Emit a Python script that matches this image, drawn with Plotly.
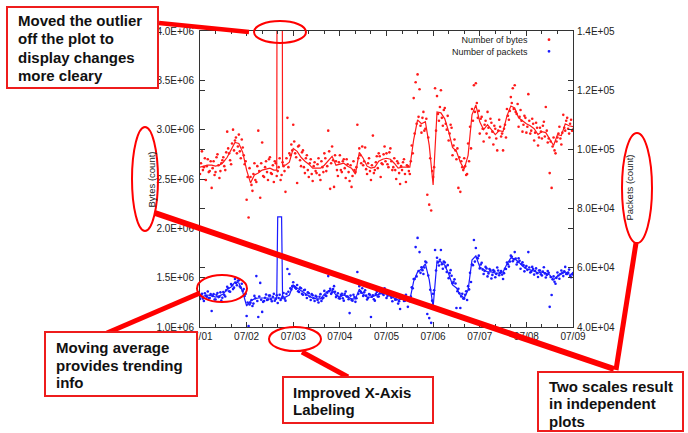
import pandas as pd
import plotly.graph_objects as go

W, H = 688, 433
START = pd.Timestamp("2009-07-01")

# ---------------- data ----------------
# moving-average sample times (hours since 07/01 00:00)
ma_hours = list(range(0, 39, 2)) + [39.5, 40, 42, 42.5] + list(range(44, 193, 2))

# moving average of bytes (millions)
ma_bytes_m = [
    2.62, 2.63, 2.64, 2.64, 2.63, 2.64, 2.67, 2.72, 2.79, 2.87,
    2.86, 2.77, 2.59, 2.46, 2.54, 2.56, 2.59, 2.60, 2.61, 2.59,
    2.59, 9.0, 9.0, 2.64,
    2.64, 2.67, 2.81, 2.78, 2.72, 2.68, 2.65, 2.61, 2.61, 2.61,
    2.64, 2.69, 2.73, 2.64, 2.65, 2.66, 2.63, 2.61, 2.55, 2.77,
    2.71, 2.63, 2.61, 2.62, 2.68, 2.70, 2.71, 2.70, 2.66, 2.61,
    2.62, 2.62, 2.62, 2.90, 3.10, 3.06, 3.08, 2.84, 2.44, 3.18,
    3.17, 3.11, 2.98, 2.82, 2.78, 2.67, 2.60, 2.74, 3.15, 3.25,
    3.08, 3.00, 3.05, 3.00, 2.95, 2.99, 2.98, 3.14, 3.24, 3.22,
    3.12, 3.09, 3.06, 3.04, 3.01, 2.95, 2.98, 2.97, 2.90, 2.84,
    2.95, 2.94, 3.06, 3.04, 3.03,
]

# moving average of packets (thousands)
ma_packets_k = [
    50.1, 50.5, 50.8, 50.5, 50.1, 50.5, 51.1, 52.8, 53.5, 55.2,
    54.9, 51.8, 47.1, 48.8, 49.5, 49.8, 49.8, 49.8, 49.8, 49.8,
    49.8, 77.2, 77.2, 50.1,
    50.1, 50.8, 54.2, 53.2, 52.2, 51.5, 50.5, 49.8, 49.5, 49.5,
    51.1, 52.2, 52.5, 50.8, 50.1, 50.8, 50.1, 49.5, 49.5, 52.8,
    51.1, 50.1, 50.1, 50.5, 51.1, 51.5, 51.1, 50.5, 49.8, 49.1,
    49.5, 49.8, 49.1, 55.5, 58.6, 59.6, 61.3, 55.9, 46.8, 62.3,
    62.0, 60.9, 57.9, 54.2, 53.2, 50.8, 49.8, 52.5, 62.6, 64.0,
    60.3, 59.3, 58.6, 58.6, 58.2, 58.2, 58.6, 61.3, 63.3, 63.0,
    62.0, 60.6, 59.6, 59.3, 58.9, 58.2, 58.6, 58.2, 57.6, 55.9,
    57.2, 57.9, 58.6, 57.9, 57.6,
]

# samples on the hour: bytes (units of 1e4)
bytes_pts = [
    255, 278, 262, 249, 270, 258, 241, 268, 257, 275, 251, 266,
    272, 259, 298, 276, 265, 300, 289, 276, 295, 271, 282, 265,
    229, 211, 252, 238, 266, 247, 299, 231, 287, 252, 268, 249,
    272, 255, 247, 266, 258, 271, 254, 263, 237, 312, 276, 285,
    305, 276, 246, 284, 263, 279, 256, 274, 252, 270, 248, 267,
    256, 271, 249, 262, 276, 258, 299, 240, 283, 242, 268, 253,
    274, 257, 270, 251, 265, 248, 242, 268, 257, 305, 281, 266,
    264, 282, 255, 271, 249, 294, 259, 273, 276, 252, 265, 283,
    276, 262, 281, 259, 271, 250, 266, 245, 259, 270, 247, 263,
    255, 284, 332, 348, 356, 341, 297, 318, 301, 234, 224, 218,
    252, 342, 334, 309, 340, 304, 322, 300, 289, 305, 274, 290,
    270, 241, 237, 262, 271, 254, 286, 303, 321, 345, 347, 312,
    296, 313, 288, 309, 318, 292, 307, 285, 301, 279, 310, 293,
    279, 305, 321, 310, 333, 342, 345, 316, 303, 320, 298, 314,
    297, 336, 296, 311, 289, 307, 284, 302, 291, 308, 323, 287,
    256, 241, 292, 276, 292, 303, 285, 315, 299, 312, 296, 310, 300,
]

# samples on the half hour: bytes (units of 1e4)
bytes_pts_half = [
    266, 259, 271, 263, 257, 268, 261, 254, 272, 264, 258, 269,
    263, 277, 281, 269, 286, 279, 292, 283, 278, 290, 274, 268,
    252, 261, 244, 255, 249, 263, 258, 266, 253, 262, 257, 270,
    256, 264, 268, 253, 262, 249, 267, 258, 271, 262, 274, 279,
    288, 272, 283, 269, 277, 262, 271, 259, 266, 255, 263, 258,
    265, 254, 268, 257, 271, 263, 278, 266, 269, 274, 259, 267,
    259, 268, 261, 270, 257, 264, 253, 259, 262, 271, 274, 283,
    268, 260, 266, 258, 264, 256, 267, 261, 273, 266, 275, 268,
    265, 277, 268, 262, 259, 268, 256, 263, 267, 255, 264, 258,
    268, 276, 296, 306, 313, 304, 312, 299, 311, 292, 271, 258,
    262, 299, 316, 323, 312, 320, 306, 314, 296, 302, 284, 279,
    281, 272, 268, 259, 263, 255, 268, 281, 309, 318, 327, 319,
    311, 301, 305, 296, 302, 311, 298, 304, 291, 299, 303, 296,
    301, 292, 314, 319, 327, 321, 318, 326, 313, 309, 305, 312,
    303, 309, 299, 306, 297, 302, 292, 298, 304, 293, 299, 291,
    288, 283, 279, 288, 296, 291, 297, 302, 309, 301, 306, 299,
]

# samples on the hour: packets (units of 100)
packets_pts = [
    495, 512, 488, 506, 520, 498, 454, 511, 493, 515, 502, 489,
    518, 503, 536, 521, 545, 528, 562, 541, 558, 533, 522, 505,
    437, 403, 482, 471, 505, 572, 434, 549, 451, 488, 510, 493,
    506, 487, 512, 495, 481, 509, 497, 515, 489, 596, 579, 527,
    551, 533, 542, 518, 531, 509, 526, 498, 514, 491, 507, 488,
    502, 483, 511, 496, 522, 505, 572, 529, 517, 538, 501, 514,
    496, 512, 489, 520, 503, 447, 491, 509, 485, 586, 538, 516,
    505, 524, 493, 511, 434, 507, 489, 518, 503, 527, 512, 531,
    498, 521, 506, 487, 510, 493, 479, 461, 502, 488, 509, 468,
    487, 534, 562, 670, 701, 653, 602, 579, 621, 444, 430, 414,
    512, 660, 634, 608, 660, 597, 618, 586, 565, 592, 548, 561,
    464, 529, 464, 512, 496, 521, 538, 583, 611, 694, 667, 632,
    598, 617, 579, 603, 571, 596, 564, 592, 568, 601, 575, 589,
    562, 597, 618, 604, 641, 622, 653, 611, 632, 597, 619, 588,
    606, 653, 584, 603, 577, 598, 569, 591, 574, 602, 567, 589,
    468, 508, 571, 546, 584, 563, 591, 572, 603, 579, 594, 568, 582,
]

# samples on the half hour: packets (units of 100)
packets_pts_half = [
    507, 496, 514, 502, 498, 511, 505, 493, 509, 501, 517, 499,
    508, 524, 531, 519, 541, 533, 549, 556, 537, 546, 528, 512,
    483, 476, 491, 479, 497, 488, 503, 492, 485, 499, 491, 506,
    494, 502, 489, 507, 498, 491, 503, 496, 512, 519, 531, 538,
    537, 529, 521, 533, 512, 524, 509, 517, 503, 511, 497, 505,
    491, 502, 488, 499, 507, 516, 521, 512, 528, 519, 506, 497,
    508, 497, 512, 503, 494, 506, 489, 501, 497, 512, 521, 531,
    517, 506, 498, 509, 502, 494, 511, 503, 514, 521, 508, 517,
    505, 514, 499, 508, 492, 503, 487, 496, 501, 489, 497, 493,
    503, 531, 562, 571, 589, 583, 592, 601, 618, 574, 526, 489,
    524, 591, 618, 627, 612, 621, 603, 609, 582, 573, 553, 547,
    521, 514, 503, 496, 509, 491, 527, 552, 609, 621, 634, 641,
    611, 594, 589, 598, 581, 592, 576, 588, 579, 591, 583, 577,
    582, 596, 612, 621, 637, 628, 631, 619, 624, 613, 609, 601,
    593, 601, 587, 596, 589, 582, 591, 578, 587, 581, 576, 583,
    569, 561, 553, 566, 574, 579, 583, 588, 579, 584, 572, 578,
]

day_labels = ["07/01", "07/02", "07/03", "07/04", "07/05", "07/06", "07/07", "07/08", "07/09"]
bytes_ticks = [1.0e6, 1.5e6, 2.0e6, 2.5e6, 3.0e6, 3.5e6, 4.0e6]
bytes_labels = ["1.0E+06", "1.5E+06", "2.0E+06", "2.5E+06", "3.0E+06", "3.5E+06", "4.0E+06"]
packet_ticks = [4.0e4, 6.0e4, 8.0e4, 1.0e5, 1.2e5, 1.4e5]
packet_labels = ["4.0E+04", "6.0E+04", "8.0E+04", "1.0E+05", "1.2E+05", "1.4E+05"]
legend_labels = ["Number of bytes", "Number of packets"]

callouts = [
    ["Moved the outlier", "off the plot to", "display changes", "more cleary"],
    ["Moving average", "provides trending", "info"],
    ["Improved X-Axis", "Labeling"],
    ["Two scales result", "in independent", "plots"],
]

# ---------------- build ----------------
def hours_to_t(hours):
    return [START + pd.Timedelta(hours=h) for h in hours]


ma_t = hours_to_t(ma_hours)
b_t = hours_to_t(list(range(len(bytes_pts))) + [h + 0.5 for h in range(len(bytes_pts_half))])
p_t = hours_to_t(list(range(len(packets_pts))) + [h + 0.5 for h in range(len(packets_pts_half))])
b_vals = [v * 1e4 for v in bytes_pts + bytes_pts_half]
p_vals = [v * 1e2 for v in packets_pts + packets_pts_half]
day_ticks = [START + pd.Timedelta(days=d) for d in range(len(day_labels))]

RED = "#ff1a1a"
BLUE = "#1a1aff"
AX = "#333333"
FONT = "Liberation Sans, Arial, sans-serif"

fig = go.Figure()
fig.add_trace(go.Scatter(x=b_t, y=b_vals, mode="markers",
                         marker=dict(size=2.6, color=RED), yaxis="y", showlegend=False))
fig.add_trace(go.Scatter(x=ma_t, y=[v * 1e6 for v in ma_bytes_m], mode="lines",
                         line=dict(color=RED, width=1.2), yaxis="y", showlegend=False))
fig.add_trace(go.Scatter(x=p_t, y=p_vals, mode="markers",
                         marker=dict(size=2.6, color=BLUE), yaxis="y2", showlegend=False))
fig.add_trace(go.Scatter(x=ma_t, y=[v * 1e3 for v in ma_packets_k], mode="lines",
                         line=dict(color=BLUE, width=1.2), yaxis="y2", showlegend=False))


def px(x):
    return x / W


def py(y):
    return 1 - y / H


L, R, T, B = 200, 573, 31, 327
tickfont = dict(family=FONT, size=10, color="#222222")

fig.update_layout(
    width=W, height=H,
    margin=dict(l=0, r=0, t=0, b=0, autoexpand=False),
    paper_bgcolor="white", plot_bgcolor="white",
    showlegend=False,
    xaxis=dict(
        domain=[px(L), px(R)], type="date", automargin=False,
        range=[START, START + pd.Timedelta(days=8)],
        tickmode="array", tickvals=day_ticks, ticktext=day_labels,
        ticks="inside", ticklen=5, tickcolor=AX, tickwidth=1,
        showline=True, linecolor=AX, linewidth=1, mirror="ticks",
        showgrid=False, zeroline=False, tickfont=tickfont,
        minor=dict(tickmode="linear", tick0=START, dtick=8 * 3600 * 1000,
                   ticks="inside", ticklen=3, tickcolor=AX, showgrid=False),
    ),
    yaxis=dict(
        domain=[py(B), py(T)], range=[1.0e6, 4.0e6], automargin=False,
        tickmode="array", tickvals=bytes_ticks, ticktext=bytes_labels,
        ticks="inside", ticklen=5, tickcolor=AX,
        showline=True, linecolor=AX, linewidth=1, mirror="ticks",
        showgrid=False, zeroline=False, tickfont=tickfont, ticklabelstandoff=3,
    ),
    yaxis2=dict(
        overlaying="y", side="right", anchor="x", range=[4.0e4, 1.4e5], automargin=False,
        tickmode="array", tickvals=packet_ticks, ticktext=packet_labels,
        ticks="inside", ticklen=5, tickcolor=AX,
        showline=True, linecolor=AX, linewidth=1, mirror="ticks",
        showgrid=False, zeroline=False, tickfont=tickfont, ticklabelstandoff=1,
    ),
)

shapes = []
ann = []

# legend (text block right-aligned, sample dots to the right)
LEG_MID, LEG_SIZE = 45.5, 9
ann.append(dict(x=px(529), y=py(LEG_MID), xref="paper", yref="paper",
                text="<br>".join(legend_labels), showarrow=False, borderpad=0,
                xanchor="right", yanchor="middle", align="right",
                font=dict(family=FONT, size=LEG_SIZE, color="#222222")))
half = 1.3 * LEG_SIZE / 2
for row, col in zip([LEG_MID - half, LEG_MID + half], [RED, BLUE]):
    shapes.append(dict(type="circle", xref="paper", yref="paper",
                       x0=px(547.6), x1=px(550.4), y0=py(row - 1.4), y1=py(row + 1.4),
                       fillcolor=col, line=dict(width=0), layer="above"))

# axis titles
ann.append(dict(x=px(143), y=py(180), xref="paper", yref="paper", text="Bytes (count)",
                showarrow=False, textangle=-90, font=dict(family=FONT, size=9.5, color="#222222")))
ann.append(dict(x=px(636), y=py(188), xref="paper", yref="paper", text="Packets (count)",
                showarrow=False, textangle=-90, font=dict(family=FONT, size=9.5, color="#222222")))

# thick connector lines
connectors = [
    ((159, 23), (249, 32), 4.5),
    ((155, 213), (614, 369), 6),
    ((636, 243), (616, 370), 5),
    ((200, 293), (107, 333), 5),
    ((302, 352), (348, 377), 5),
]
for (x0, y0), (x1, y1), w in connectors:
    shapes.append(dict(type="line", xref="paper", yref="paper",
                       x0=px(x0), y0=py(y0), x1=px(x1), y1=py(y1),
                       line=dict(color="#ff0000", width=w), layer="above"))

# ellipses
ellipses = [
    (254, 21, 306, 43),
    (132, 127, 158, 231),
    (622, 133, 652, 243),
    (269, 327, 321, 351),
    (197, 275, 247, 302),
]
for x0, y0, x1, y1 in ellipses:
    shapes.append(dict(type="circle", xref="paper", yref="paper",
                       x0=px(x0), y0=py(y0), x1=px(x1), y1=py(y1),
                       line=dict(color="#ff0000", width=2), layer="above"))

# callout boxes
boxes = [
    (7, 7, 158, 88, 16, [21, 39, 57, 75]),
    (45, 332, 197, 396, 54, [347, 365, 382]),
    (283, 377, 433, 423, 291, [392, 409]),
    (538, 372, 683, 431, 547, [386, 403, 421]),
]
for (x0, y0, x1, y1, tx, rows), lines in zip(boxes, callouts):
    shapes.append(dict(type="rect", xref="paper", yref="paper",
                       x0=px(x0), y0=py(y0), x1=px(x1), y1=py(y1),
                       fillcolor="white", line=dict(color="#ee1c1c", width=2), layer="above"))
    for txt, ry in zip(lines, rows):
        ann.append(dict(x=px(tx), y=py(ry), xref="paper", yref="paper",
                        text="<b>" + txt + "</b>", showarrow=False,
                        xanchor="left", yanchor="middle", align="left",
                        font=dict(family=FONT, size=15, color="#111111")))

fig.update_layout(shapes=shapes, annotations=ann)
fig.write_html(
    "out.html",
    config={"displayModeBar": False},
    post_script="document.body.style.margin='0';document.body.style.padding='0';"
                "document.body.style.overflow='hidden';",
)
